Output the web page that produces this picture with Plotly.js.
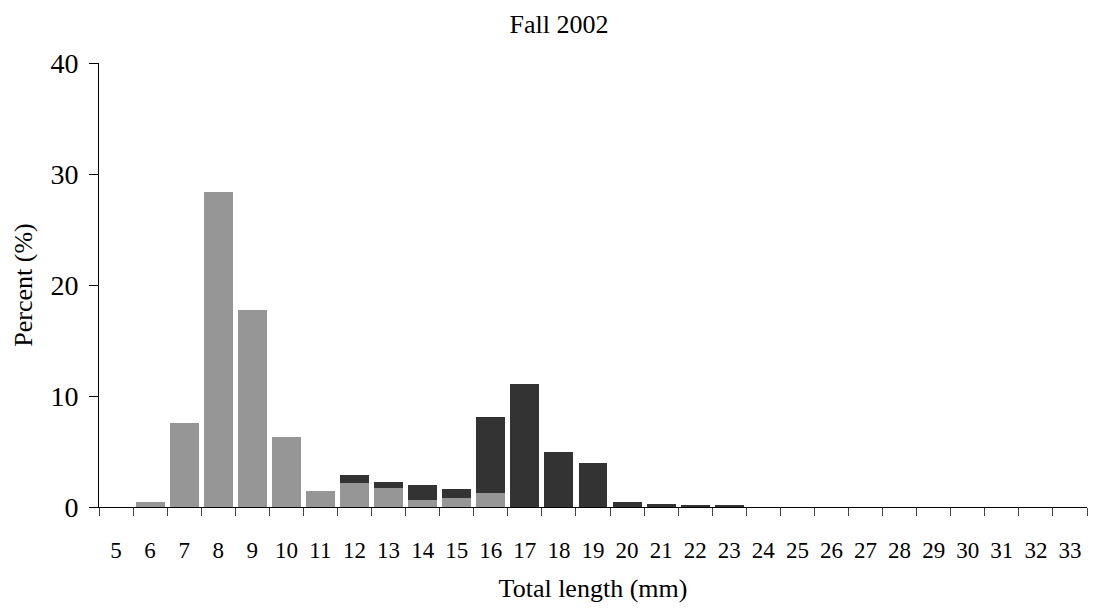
<!DOCTYPE html>
<html>
<head>
<meta charset="utf-8">
<script src="https://cdn.plot.ly/plotly-3.0.1.min.js"></script>
<style>html,body{margin:0;padding:0;background:#fff;}#chart{width:1094px;height:608px;}</style>
</head>
<body>
<div id="chart"></div>
<script>
const lengths = ["5","6","7","8","9","10","11","12","13","14","15","16","17","18","19","20","21","22","23","24","25","26","27","28","29","30","31","32","33"];
const lowerSeries = [0,0.45,7.55,28.4,17.75,6.3,1.44,2.16,1.71,0.63,0.81,1.26,0,0,0,0,0,0,0,0,0,0,0,0,0,0,0,0,0];
const upperSeries = [0,0,0,0,0,0,0,0.72,0.54,1.35,0.81,6.84,11.07,4.95,3.96,0.42,0.27,0.18,0.18,0,0,0,0,0,0,0,0,0,0];
const yTicks = [0,10,20,30,40];

const font = "Liberation Serif, Times New Roman, serif";
const traces = [
  {type:'bar', name:'Series 1', x:lengths, y:lowerSeries, marker:{color:'#969696', line:{width:0}}, hoverinfo:'x+y'},
  {type:'bar', name:'Series 2', x:lengths, y:upperSeries, marker:{color:'#333333', line:{width:0}}, hoverinfo:'x+y'}
];
const layout = {
  width:1094, height:608,
  barmode:'stack', bargap:0.15,
  showlegend:false,
  paper_bgcolor:'#fff', plot_bgcolor:'#fff',
  margin:{l:99, r:7, t:63, b:101},
  font:{family:font, color:'#000'},
  title:{text:'Fall 2002', font:{family:font, size:26, color:'#000'}, xref:'container', x:0.511, xanchor:'center', yref:'container', y:1-24/608, yanchor:'middle'},
  xaxis:{
    type:'category', range:[-0.5,28.5], tickson:'boundaries',
    ticks:'outside', ticklen:8, tickcolor:'#444', tickwidth:1,
    showline:true, linecolor:'#000', linewidth:1,
    showgrid:false, zeroline:false,
    tickfont:{family:font, size:23, color:'#000'}, ticklabelstandoff:22,
    title:{text:'Total length (mm)', font:{family:font, size:26, color:'#000'}, standoff:17}
  },
  yaxis:{
    range:[0,40], tickvals:yTicks, ticktext:yTicks.map(String),
    ticks:'outside', ticklen:9, tickcolor:'#000', tickwidth:1,
    showline:true, linecolor:'#000', linewidth:1,
    showgrid:false, zeroline:false,
    tickfont:{family:font, size:28, color:'#000'}, ticklabelstandoff:5,
    title:{text:'Percent (%)', font:{family:font, size:26, color:'#000'}, standoff:10}
  }
};
Plotly.newPlot('chart', traces, layout, {displayModeBar:false, staticPlot:true});
</script>
</body>
</html>
